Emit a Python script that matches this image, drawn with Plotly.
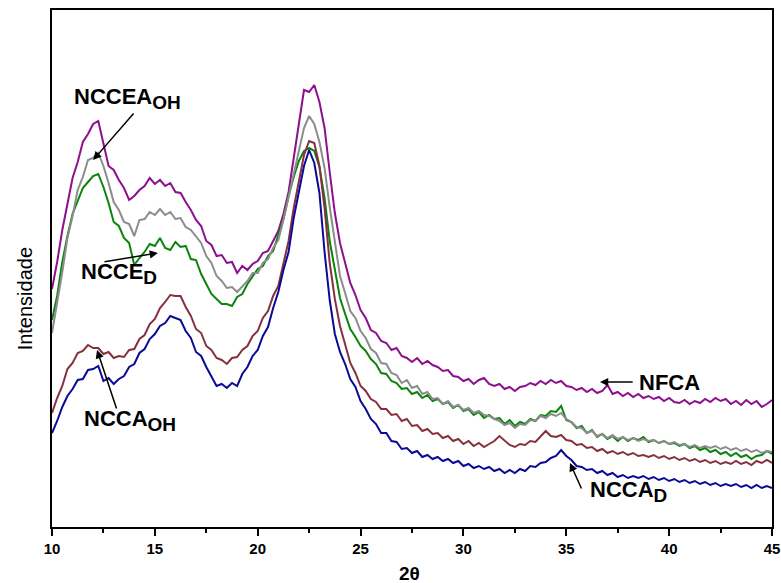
import plotly.graph_objects as go

# Diffractogram intensities (arbitrary units), sampled every 0.25 deg from 10 to 45 deg 2-theta
nfca = [238, 265, 297, 324, 349, 365, 385, 393, 403, 406, 382, 361,
        357, 347, 339, 327, 331, 337, 341, 349, 343, 347, 341, 344,
        335, 334, 325, 317, 307, 301, 286, 282, 271, 272, 264, 265,
        254, 261, 257, 263, 266, 274, 276, 286, 296, 313, 335, 369,
        405, 437, 435, 442, 425, 399, 355, 314, 284, 264, 244, 232,
        217, 209, 197, 194, 186, 184, 177, 179, 171, 169, 165, 169,
        163, 166, 162, 160, 156, 157, 151, 150, 146, 148, 143, 147,
        149, 143, 141, 143, 138, 140, 136, 140, 141, 144, 142, 146,
        143, 147, 144, 146, 141, 140, 137, 139, 135, 138, 134, 136,
        142, 133, 135, 131, 134, 130, 133, 129, 131, 128, 130, 126,
        129, 125, 124, 127, 123, 126, 124, 128, 125, 129, 126, 128,
        123, 126, 122, 127, 123, 126, 120, 123, 127]

nccea_oh = [194, 224, 255, 289, 311, 337, 350, 367, 369, 374, 361, 344,
            325, 317, 305, 303, 291, 307, 308, 315, 312, 318, 312, 315,
            308, 309, 300, 297, 290, 284, 271, 264, 251, 246, 239, 240,
            235, 241, 246, 254, 254, 264, 268, 279, 287, 307, 330, 354,
            375, 399, 411, 403, 385, 359, 320, 284, 251, 234, 216, 209,
            196, 189, 178, 174, 164, 163, 154, 152, 144, 147, 139, 141,
            133, 135, 128, 129, 123, 126, 120, 122, 117, 119, 114, 116,
            112, 111, 108, 106, 102, 104, 99, 103, 102, 107, 106, 111,
            109, 113, 111, 114, 108, 105, 100, 99, 94, 96, 91, 93,
            89, 92, 88, 90, 87, 89, 86, 88, 86, 87, 84, 86,
            83, 85, 82, 83, 80, 82, 79, 81, 79, 81, 78, 80,
            77, 79, 76, 78, 75, 77, 74, 76, 75]

ncce_d = [207, 231, 265, 291, 313, 326, 339, 345, 351, 353, 340, 324,
          305, 301, 289, 284, 262, 269, 275, 283, 281, 289, 279, 277,
          285, 280, 281, 268, 267, 253, 243, 233, 228, 223, 223, 221,
          230, 233, 243, 250, 258, 261, 271, 276, 291, 308, 331, 350,
          366, 376, 379, 376, 360, 329, 286, 257, 229, 213, 198, 190,
          181, 176, 168, 163, 154, 153, 146, 144, 138, 139, 133, 135,
          129, 132, 126, 128, 123, 125, 119, 122, 116, 118, 112, 115,
          109, 112, 108, 109, 103, 107, 101, 105, 103, 108, 106, 112,
          111, 116, 115, 121, 107, 105, 99, 101, 94, 97, 90, 93,
          88, 91, 86, 90, 86, 89, 87, 90, 85, 87, 84, 86,
          83, 84, 81, 83, 79, 81, 77, 79, 75, 77, 73, 75,
          71, 74, 70, 72, 68, 71, 72, 76, 73]

ncca_oh = [114, 129, 141, 158, 164, 174, 176, 182, 179, 179, 173, 175,
           169, 171, 170, 177, 178, 188, 192, 203, 208, 219, 225, 232,
           231, 231, 220, 211, 198, 194, 181, 177, 169, 167, 163, 169,
           170, 177, 181, 191, 196, 209, 216, 231, 241, 264, 286, 319,
           346, 372, 386, 384, 361, 319, 264, 228, 201, 183, 164, 154,
           141, 136, 128, 125, 118, 118, 112, 113, 106, 108, 101, 102,
           96, 98, 93, 94, 89, 91, 86, 88, 83, 86, 81, 84,
           80, 83, 86, 91, 86, 82, 80, 83, 82, 86, 85, 91,
           96, 91, 90, 92, 87, 86, 82, 83, 79, 80, 76, 78,
           74, 76, 73, 75, 72, 74, 71, 72, 70, 72, 69, 71,
           68, 70, 67, 69, 66, 68, 65, 67, 64, 66, 63, 65,
           63, 66, 63, 65, 62, 66, 64, 67, 64]

ncca_d = [94, 106, 120, 131, 138, 147, 148, 157, 158, 161, 146, 149,
          143, 148, 151, 160, 163, 174, 178, 188, 193, 201, 204, 211,
          209, 207, 196, 189, 175, 171, 160, 151, 141, 143, 139, 144,
          141, 153, 160, 171, 177, 191, 200, 219, 235, 257, 275, 309,
          335, 361, 377, 364, 334, 275, 227, 193, 175, 163, 148, 140,
          126, 118, 108, 103, 94, 94, 86, 85, 78, 79, 74, 76,
          70, 72, 68, 70, 66, 68, 64, 66, 61, 63, 59, 61,
          58, 60, 56, 58, 54, 57, 54, 58, 56, 61, 60, 64,
          65, 69, 71, 77, 71, 67, 61, 60, 57, 58, 54, 56,
          52, 54, 50, 52, 49, 51, 49, 51, 48, 50, 47, 49,
          46, 48, 45, 47, 44, 46, 43, 45, 42, 44, 41, 43,
          41, 43, 40, 42, 39, 42, 39, 41, 39]

two_theta = [10 + 0.25 * i for i in range(len(nfca))]

x_ticks = [10, 15, 20, 25, 30, 35, 40, 45]

series = [
    ("NFCA", nfca, "#8e0f8e"),
    ("NCCE_D", ncce_d, "#0a840a"),
    ("NCCEA_OH", nccea_oh, "#8c8c8c"),
    ("NCCA_OH", ncca_oh, "#86303f"),
    ("NCCA_D", ncca_d, "#0a0a96"),
]

fig = go.Figure()
for name, vals, col in series:
    fig.add_trace(go.Scatter(x=two_theta, y=vals, mode="lines", name=name,
                             line=dict(color=col, width=2)))

FONT = "Liberation Sans, Arial, sans-serif"
lab_font = dict(family=FONT, size=22, color="black")
SUB = '<span style="font-size:19px">'

labels = [
    ("<b>NCCEA<sub>" + SUB + "OH</span></sub></b>", 13.65, 429),
    ("<b>NCCE<sub>" + SUB + "D</span></sub></b>", 13.25, 254),
    ("<b>NCCA<sub>" + SUB + "OH</span></sub></b>", 13.8, 107),
    ("<b>NFCA</b>", 40.0, 145),
    ("<b>NCCA<sub>" + SUB + "D</span></sub></b>", 38.0, 36),
]
for txt, xx, yy in labels:
    fig.add_annotation(x=xx, y=yy, text=txt, showarrow=False, font=lab_font,
                       xanchor="center", yanchor="middle")

arrows = [
    # (head x, head y, tail x, tail y)
    (12.0, 367, 14.03, 415),
    (15.15, 274, 12.48, 265),
    (12.19, 177, 13.16, 117),
    (36.64, 145, 38.3, 145),
    (35.18, 64, 35.77, 37),
]
for hx, hy, tx, ty in arrows:
    fig.add_annotation(x=hx, y=hy, ax=tx, ay=ty, axref="x", ayref="y",
                       text="", showarrow=True, arrowhead=2, arrowsize=1.1,
                       arrowwidth=1.5, arrowcolor="black")

# axis titles
fig.add_annotation(xref="paper", yref="paper", x=0.497, y=-0.089, text="<b>2θ</b>",
                   showarrow=False, xanchor="center", yanchor="middle",
                   font=dict(family=FONT, size=19, color="black"))
fig.add_annotation(xref="paper", yref="paper", x=-0.037, y=0.441, text="Intensidade",
                   showarrow=False, xanchor="center", yanchor="middle", textangle=-90,
                   font=dict(family=FONT, size=20, color="black"))

fig.update_layout(
    width=781, height=583,
    margin=dict(l=52, r=9, t=10, b=56, autoexpand=False),
    paper_bgcolor="white", plot_bgcolor="white",
    showlegend=False,
    font=dict(family=FONT, color="black"),
)
fig.update_xaxes(
    range=[10, 45], tickvals=x_ticks, ticktext=[f"<b>{v}</b>" for v in x_ticks],
    ticks="outside", ticklen=7, tickwidth=1.5, tickcolor="black",
    minor=dict(dtick=2.5, ticks="outside", ticklen=4, tickwidth=1.5, tickcolor="black"),
    showline=True, linewidth=2, linecolor="black", mirror=True,
    showgrid=False, zeroline=False, automargin=False,
    tickfont=dict(family=FONT, size=15, color="black"),
)
fig.update_yaxes(
    range=[0, 517], showticklabels=False, ticks="",
    showline=True, linewidth=2, linecolor="black", mirror=True,
    showgrid=False, zeroline=False, automargin=False,
)

fig.write_html("out.html", config={"displayModeBar": False},
               post_script="document.body.style.margin='0';document.body.style.overflow='hidden';")
